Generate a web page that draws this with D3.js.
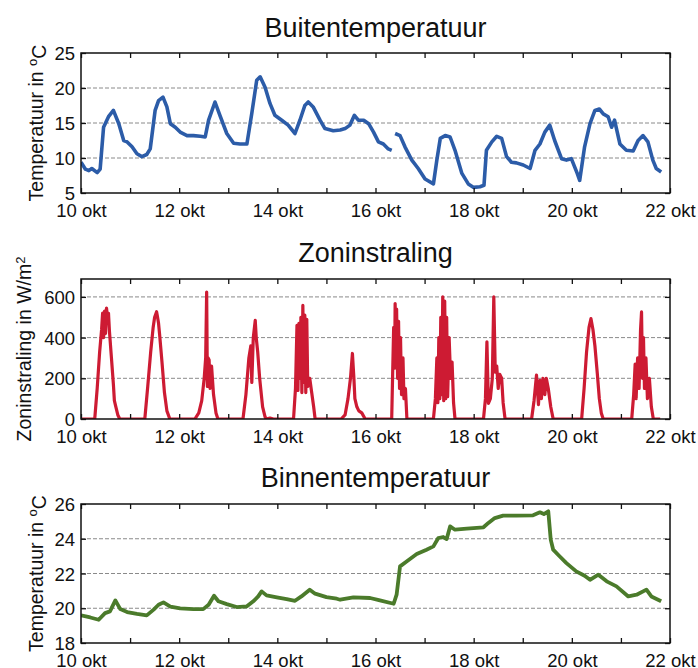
<!DOCTYPE html>
<html>
<head>
<meta charset="utf-8">
<script src="https://cdn.jsdelivr.net/npm/d3@7"></script>
<style>
  body { margin: 0; background: #fff; }
  text { font-family: "Liberation Sans", Arial, sans-serif; fill: #111; }
</style>
</head>
<body>
<svg id="chart"></svg>
<script>
// x values are in days after 10 okt 00:00
var dayTicks = d3.range(0, 13);
var dayLabels = ["10 okt", "", "12 okt", "", "14 okt", "", "16 okt", "", "18 okt", "", "20 okt", "", "22 okt"];

// Buitentemperatuur (null = gap in the record)
var outDays = [0.00, 0.09, 0.16, 0.22, 0.33, 0.39, 0.46, 0.56, 0.66, 0.77, 0.87, 0.94, 1.04, 1.14, 1.24, 1.34, 1.41,
  1.51, 1.58, 1.67, 1.75, 1.82, 1.92, 2.02, 2.16, 2.29, 2.43, 2.53, 2.60, 2.73, 2.83, 2.97, 3.11, 3.24, 3.38,
  3.48, 3.58, 3.65, 3.75, 3.85, 3.95, 4.09, 4.22, 4.36, 4.46, 4.56, 4.63, 4.73, 4.87, 4.97, 5.14, 5.28, 5.38,
  5.48, 5.57, 5.65, 5.76, 5.86, 5.96, 6.06, 6.16, 6.26, 6.33, 6.37, 6.40, 6.50, 6.60, 6.74, 6.87, 7.01, 7.18,
  7.25, 7.32, 7.42, 7.52, 7.62, 7.76, 7.89, 8.00, 8.13, 8.21, 8.26, 8.37, 8.47, 8.57, 8.67, 8.77, 8.87, 9.01,
  9.15, 9.25, 9.35, 9.45, 9.55, 9.65, 9.79, 9.89, 9.99, 10.11, 10.16, 10.26, 10.37, 10.47, 10.56, 10.64, 10.74,
  10.81, 10.87, 10.98, 11.11, 11.25, 11.35, 11.45, 11.55, 11.65, 11.72, 11.82];
var outTemp = [9.4, 8.4, 8.2, 8.5, 7.9, 8.4, 14.4, 15.9, 16.8, 14.9, 12.5, 12.3, 11.6, 10.6, 10.2, 10.5, 11.3,
  16.8, 18.2, 18.7, 17.3, 14.9, 14.4, 13.7, 13.2, 13.2, 13.1, 13.0, 15.4, 18.0, 16.1, 13.5, 12.1, 12.0, 12.0,
  16.4, 21.1, 21.6, 20.1, 17.8, 16.1, 15.4, 14.7, 13.5, 15.4, 17.5, 18.0, 17.3, 15.4, 14.2, 13.9, 14.0, 14.2,
  14.7, 16.1, 15.4, 15.4, 14.9, 13.7, 12.3, 12.0, 11.3, 11.1, null, 13.5, 13.2, 11.6, 9.7, 8.5, 7.0, 6.3,
  9.7, 12.8, 13.2, 13.0, 11.1, 7.8, 6.3, 5.8, 5.9, 6.1, 11.1, 12.3, 13.1, 12.8, 10.2, 9.4, 9.3, 9.0,
  8.5, 11.1, 12.0, 13.7, 14.7, 12.5, 9.9, 9.7, 9.9, 7.8, 6.8, 11.6, 14.9, 16.8, 17.0, 16.3, 15.9,
  14.4, 15.4, 12.0, 11.1, 11.0, 12.5, 13.2, 12.3, 9.7, 8.5, 8.0];

// Zoninstraling
var sunDays = [0, 0.28, 0.33, 0.38, 0.42, 0.44, 0.46, 0.48, 0.50, 0.52, 0.54, 0.56, 0.58, 0.62, 0.66, 0.68, 0.71, 0.75, 0.79,
  1.30, 1.36, 1.42, 1.47, 1.50, 1.54, 1.56, 1.58, 1.60, 1.65, 1.70, 1.75, 1.81,
  2.32, 2.40, 2.46, 2.51, 2.54, 2.56, 2.575, 2.59, 2.61, 2.63, 2.66, 2.70, 2.75, 2.79,
  3.30, 3.36, 3.42, 3.46, 3.48, 3.51, 3.55, 3.57, 3.60, 3.64, 3.70, 3.75, 3.78, 3.85, 3.92,
  4.33, 4.37, 4.40, 4.42, 4.44, 4.46, 4.48, 4.50, 4.52, 4.54, 4.56, 4.58, 4.60, 4.62, 4.66, 4.70, 4.74, 4.77,
  5.30, 5.38, 5.44, 5.49, 5.53, 5.56, 5.58, 5.62, 5.66, 5.72, 5.79,
  6.33, 6.35, 6.37, 6.39, 6.40, 6.42, 6.43, 6.45, 6.47, 6.49, 6.51, 6.53, 6.56, 6.58, 6.61, 6.64,
  7.18, 7.22, 7.25, 7.27, 7.29, 7.31, 7.33, 7.35, 7.37, 7.39, 7.41, 7.43, 7.45, 7.47, 7.50, 7.53, 7.56, 7.59, 7.62,
  8.20, 8.24, 8.27, 8.30, 8.34, 8.38, 8.41, 8.44, 8.47, 8.50, 8.53, 8.57, 8.60, 8.64,
  9.18, 9.23, 9.28, 9.32, 9.35, 9.38, 9.41, 9.45, 9.48, 9.52, 9.57, 9.62,
  10.20, 10.25, 10.30, 10.35, 10.39, 10.43, 10.47, 10.52, 10.56, 10.60, 10.64,
  11.22, 11.26, 11.29, 11.31, 11.34, 11.37, 11.40, 11.42, 11.44, 11.46, 11.48, 11.51, 11.54, 11.58, 11.62, 11.66, 11.80];
var sunW = [0, 0, 150, 330, 440, 520, 400, 530, 420, 545, 500, 520, 430, 300, 170, 90, 60, 20, 0,
  0, 160, 330, 450, 500, 527, 500, 470, 420, 280, 130, 40, 0,
  0, 30, 90, 200, 300, 624, 160, 300, 290, 150, 260, 120, 30, 0,
  0, 120, 300, 360, 180, 400, 485, 400, 330, 200, 60, 10, 0, 5, 0,
  0, 150, 460, 140, 470, 200, 500, 130, 558, 180, 510, 130, 490, 160, 200, 130, 60, 0,
  0, 20, 100, 200, 322, 200, 100, 60, 40, 30, 0,
  0, 230, 450, 250, 567, 300, 540, 200, 480, 150, 400, 120, 300, 100, 150, 0,
  0, 100, 300, 80, 400, 100, 500, 120, 600, 90, 580, 100, 500, 110, 400, 200, 280, 80, 0,
  0, 100, 379, 77, 100, 200, 600, 230, 260, 150, 220, 200, 80, 0,
  0, 90, 216, 70, 190, 100, 200, 120, 200, 150, 60, 0,
  0, 150, 330, 450, 493, 440, 360, 220, 100, 30, 0,
  0, 120, 270, 100, 300, 150, 440, 526, 200, 400, 150, 300, 100, 200, 60, 0, 0];

// Binnentemperatuur
var inDays = [0.00, 0.19, 0.36, 0.49, 0.59, 0.70, 0.80, 0.94, 1.14, 1.34, 1.48, 1.58, 1.68, 1.82, 2.02, 2.29, 2.49,
  2.60, 2.71, 2.80, 2.97, 3.17, 3.38, 3.51, 3.61, 3.68, 3.78, 3.99, 4.19, 4.36, 4.49, 4.66, 4.77, 5.00, 5.21,
  5.28, 5.55, 5.89, 6.09, 6.37, 6.43, 6.50, 6.64, 6.84, 7.04, 7.18, 7.28, 7.38, 7.45, 7.52, 7.62, 7.86, 8.20,
  8.30, 8.43, 8.60, 8.87, 9.21, 9.35, 9.43, 9.52, 9.57, 9.62, 9.72, 9.89, 10.09, 10.26, 10.37, 10.54, 10.71,
  10.91, 11.15, 11.32, 11.52, 11.62, 11.82];
var inTemp = [19.59, 19.47, 19.34, 19.72, 19.82, 20.45, 19.95, 19.78, 19.67, 19.59, 19.92, 20.2, 20.34, 20.1, 19.99, 19.95, 19.95,
  20.2, 20.72, 20.4, 20.24, 20.07, 20.11, 20.4, 20.68, 20.97, 20.74, 20.63, 20.53, 20.43, 20.68, 21.07, 20.84, 20.64, 20.55,
  20.49, 20.63, 20.59, 20.45, 20.26, 20.78, 22.41, 22.7, 23.12, 23.37, 23.56, 24.04, 24.1, 23.98, 24.71, 24.52, 24.58, 24.66,
  24.91, 25.19, 25.33, 25.33, 25.35, 25.52, 25.42, 25.58, 23.95, 23.37, 23.08, 22.6, 22.12, 21.87, 21.64, 21.93, 21.55,
  21.26, 20.68, 20.78, 21.07, 20.68, 20.4];

var width = 698;
var height = 668;
var left = 81, right = 670;

var svg = d3.select('#chart')
  .attr('width', width)
  .attr('height', height);

var x = d3.scaleLinear()
  .domain([0, 12])
  .range([left, right]);

var panels = [
  { title: "Buitentemperatuur", label: "Temperatuur in ", sup: "o", after: "C", labelX: 43,
    top: 53, bottom: 193, domain: [5, 25], ticks: [5, 10, 15, 20, 25], grid: [10, 15, 20],
    xs: outDays, ys: outTemp, color: "#2c5ca8", lw: 3.6, titleY: 37 },
  { title: "Zoninstraling", label: "Zoninstraling in W/m", sup: "2", after: "", labelX: 31,
    top: 279, bottom: 419, domain: [0, 688], ticks: [0, 200, 400, 600], grid: [200, 400, 600],
    xs: sunDays, ys: sunW, color: "#cd1b33", lw: 3.2, titleY: 262 },
  { title: "Binnentemperatuur", label: "Temperatuur in ", sup: "o", after: "C", labelX: 43,
    top: 504, bottom: 643, domain: [18, 26], ticks: [18, 20, 22, 24, 26], grid: [20, 22, 24],
    xs: inDays, ys: inTemp, color: "#4b7b2b", lw: 3.8, titleY: 487 }
];

panels.forEach(function (p, i) {
  var y = d3.scaleLinear()
    .domain(p.domain)
    .range([p.bottom, p.top]);

  var g = svg.append('g');

  // grid
  g.selectAll('.grid')
    .data(p.grid)
    .enter().append('line')
    .attr('x1', left)
    .attr('x2', right)
    .attr('y1', function (d) { return y(d); })
    .attr('y2', function (d) { return y(d); })
    .attr('stroke', '#8a8a8a')
    .attr('stroke-width', 1)
    .attr('stroke-dasharray', '4,2');

  // data line
  svg.append('clipPath')
    .attr('id', 'clip' + i)
    .append('rect')
    .attr('x', left)
    .attr('y', p.top)
    .attr('width', right - left)
    .attr('height', p.bottom - p.top);

  var points = p.xs.map(function (d, j) { return [d, p.ys[j]]; });
  var line = d3.line()
    .defined(function (d) { return d[1] != null; })
    .x(function (d) { return x(d[0]); })
    .y(function (d) { return y(d[1]); });

  g.append('path')
    .datum(points)
    .attr('clip-path', 'url(#clip' + i + ')')
    .attr('fill', 'none')
    .attr('stroke', p.color)
    .attr('stroke-width', p.lw)
    .attr('stroke-linejoin', 'round')
    .attr('d', line);

  // axes, ticks pointing inward
  var xb = g.append('g')
    .attr('transform', 'translate(0,' + p.bottom + ')')
    .call(d3.axisBottom(x).tickValues(dayTicks).tickSizeInner(-5).tickSizeOuter(0)
      .tickFormat(function (d, j) { return dayLabels[j]; }));
  xb.selectAll('text')
    .attr('y', 24)
    .attr('dy', null)
    .style('font-size', '18.5px');

  g.append('g')
    .attr('transform', 'translate(0,' + p.top + ')')
    .call(d3.axisTop(x).tickValues(dayTicks).tickSizeInner(-5).tickSizeOuter(0).tickFormat(''));

  var yl = g.append('g')
    .attr('transform', 'translate(' + left + ',0)')
    .call(d3.axisLeft(y).tickValues(p.ticks).tickSizeInner(-5).tickSizeOuter(0).tickPadding(6));
  yl.selectAll('text')
    .attr('dy', '0.36em')
    .style('font-size', '18.5px');

  g.append('g')
    .attr('transform', 'translate(' + right + ',0)')
    .call(d3.axisRight(y).tickValues(p.ticks).tickSizeInner(-5).tickSizeOuter(0).tickFormat(''));

  g.selectAll('.domain').remove();
  g.selectAll('.tick line').attr('stroke', '#111').attr('stroke-width', 1.3);
  g.selectAll('.tick text').attr('fill', '#111').style('font-family', '"Liberation Sans", Arial, sans-serif');

  g.append('rect')
    .attr('x', left)
    .attr('y', p.top)
    .attr('width', right - left)
    .attr('height', p.bottom - p.top)
    .attr('fill', 'none')
    .attr('stroke', '#111')
    .attr('stroke-width', 1.5);

  // title
  g.append('text')
    .attr('x', (left + right) / 2)
    .attr('y', p.titleY)
    .attr('text-anchor', 'middle')
    .style('font-size', '27px')
    .text(p.title);

  // y label
  var lab = g.append('text')
    .attr('transform', 'translate(' + p.labelX + ',' + ((p.top + p.bottom) / 2) + ') rotate(-90)')
    .attr('text-anchor', 'middle')
    .style('font-size', '19.5px');
  lab.append('tspan').text(p.label);
  lab.append('tspan')
    .attr('dy', '-0.45em')
    .style('font-size', '13px')
    .text(p.sup);
  if (p.after)
    lab.append('tspan')
      .attr('dy', '0.45em')
      .text(p.after);
});
</script>
</body>
</html>
